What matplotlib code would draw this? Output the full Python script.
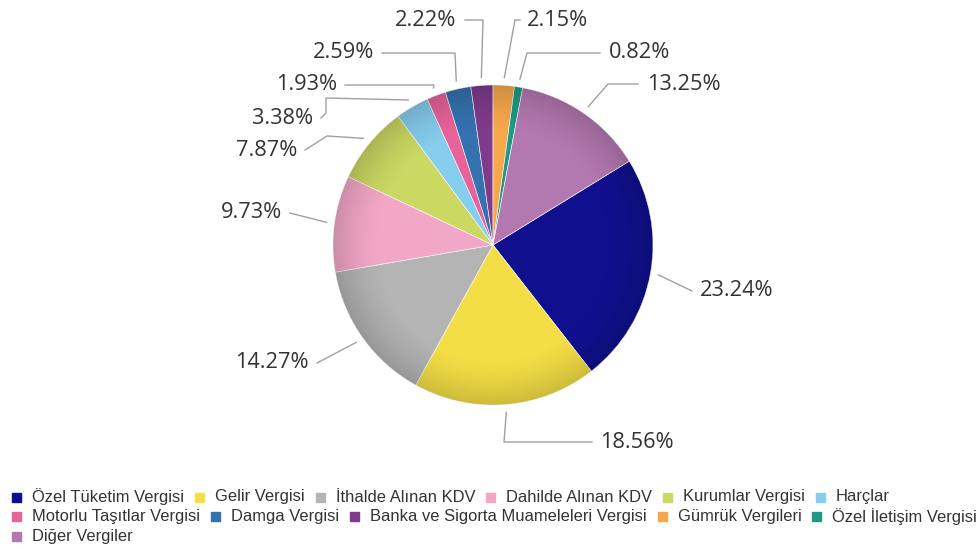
import numpy as np
import matplotlib
matplotlib.use("Agg")
import matplotlib.pyplot as plt
from matplotlib.patches import Circle, Rectangle

# tax revenue shares (%)
categories = ["Özel Tüketim Vergisi", "Gelir Vergisi", "İthalde Alınan KDV",
              "Dahilde Alınan KDV", "Kurumlar Vergisi", "Harçlar",
              "Motorlu Taşıtlar Vergisi", "Damga Vergisi",
              "Banka ve Sigorta Muameleleri Vergisi", "Gümrük Vergileri",
              "Özel İletişim Vergisi", "Diğer Vergiler"]
shares = [23.24, 18.56, 14.27, 9.73, 7.87, 3.38, 1.93, 2.59, 2.22, 2.15, 0.82, 13.25]
colors = ["#10108f", "#f4de45", "#b4b4b4", "#f3a7c7", "#cbd862", "#86cdee",
          "#e9639b", "#3572b0", "#7e3b8c", "#f6a74b", "#1e9a84", "#b478b1"]

W, H = 979, 549
cx, cy, R = 493, 245, 160          # pie centre / radius in pixels (y down)

# label layout: text x, text y, alignment, connector end x, knees (pixels, y down)
label_layout = [
    (700, 291, "left", 692, []),
    (600, 442, "left", 592, [(504, 442)]),
    (309, 363, "right", 317, []),
    (282, 213, "right", 290, []),
    (297, 150, "right", 305, [(327, 136)]),
    (313, 118, "right", 321, [(326, 98), (326, 113)]),
    (337, 85, "right", 345, [(434, 85)]),
    (374, 53, "right", 382, [(455, 53)]),
    (456, 20, "right", 465, [(483, 20)]),
    (527, 20, "left", 520, [(515, 20)]),
    (609, 53, "left", 600, [(527, 53)]),
    (647, 84, "left", 638, [(608, 84)]),
]
legend_rows = [6, 5, 1]            # entries per legend line
legend_row_y = [497, 516.5, 536]


def fy(y):
    return H - y


fig = plt.figure(figsize=(W / 100, H / 100), dpi=100)
ax = fig.add_axes([0, 0, 1, 1])

wedges, _ = ax.pie(shares, colors=colors, startangle=31.6, counterclock=False,
                   center=(cx, fy(cy)), radius=R,
                   wedgeprops=dict(edgecolor="white", linewidth=0.4))

# soft darkening towards the rim
n = 400
yy, xx = np.mgrid[-1:1:n * 1j, -1:1:n * 1j]
rr = np.hypot(xx, yy)
shade = np.zeros((n, n, 4))
shade[..., 3] = 0.16 * np.clip((rr - 0.7) / 0.3, 0, 1) ** 1.5
im = ax.imshow(shade, extent=(cx - R, cx + R, fy(cy) - R, fy(cy) + R),
               zorder=3, interpolation="bilinear")
im.set_clip_path(Circle((cx, fy(cy)), R, transform=ax.transData))

# data labels with connectors
for w, v, (tx, ty, ha, ex, knees) in zip(wedges, shares, label_layout):
    mid = np.deg2rad((w.theta1 + w.theta2) / 2)
    px = cx + (R + 8) * np.cos(mid)
    py = fy(cy) + (R + 8) * np.sin(mid)
    xs = [px] + [k[0] for k in knees] + [ex]
    ys = [py] + [fy(k[1]) for k in knees] + [fy(ty)]
    ax.plot(xs, ys, color="#a0a0a0", lw=1, zorder=4)
    ax.text(tx, fy(ty), f"{v:.2f}%", ha=ha, va="center", fontsize=15.7,
            family="Open Sans", color="#333333", zorder=5)

# legend, flowing like the original
renderer = fig.canvas.get_renderer()
i = 0
for row, count in enumerate(legend_rows):
    x = 12
    y = fy(legend_row_y[row])
    for name, c in zip(categories[i:i + count], colors[i:i + count]):
        ax.add_patch(Rectangle((x, y - 4.5), 9, 9, color=c, zorder=5))
        t = ax.text(x + 20, y, name, fontsize=11.9, family="Liberation Sans",
                    color="#333333", va="center")
        x += 20 + t.get_window_extent(renderer).width + 11
    i += count

ax.set_xlim(0, W)
ax.set_ylim(0, H)
ax.set_aspect("auto")
ax.axis("off")
fig.savefig("out.png", dpi=100, facecolor="white")
